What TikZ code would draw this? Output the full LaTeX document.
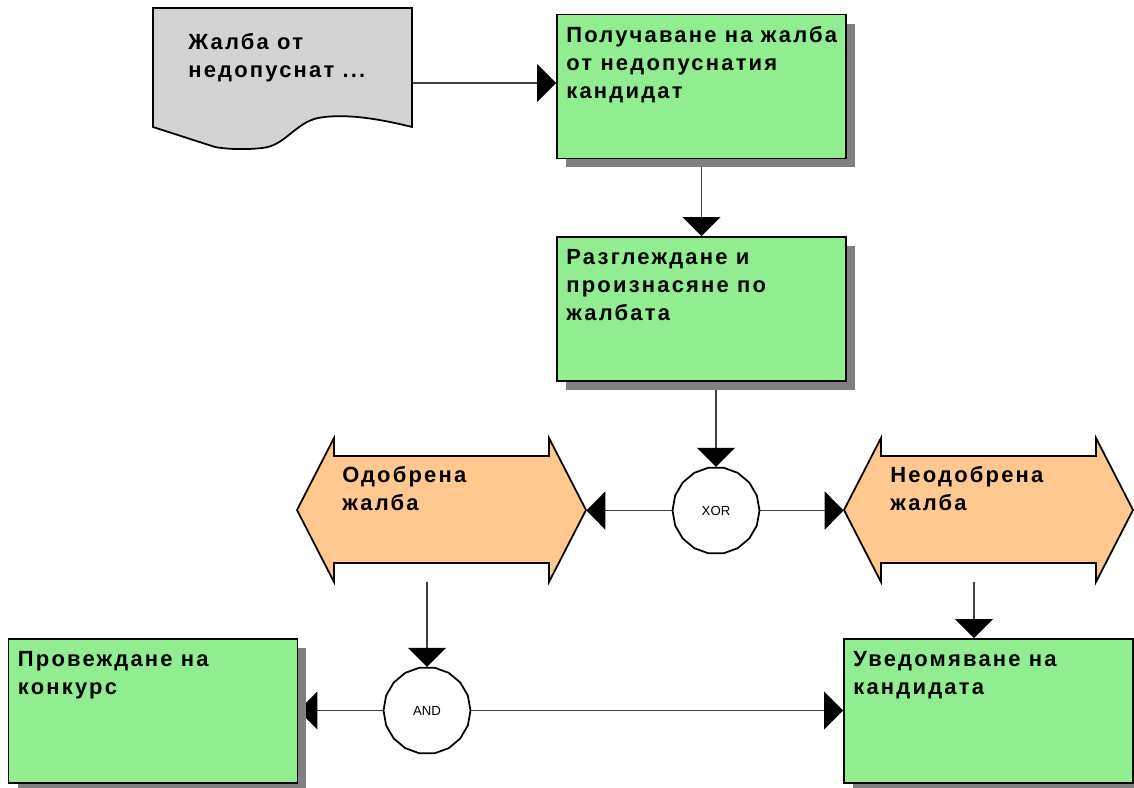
\documentclass[tikz,border=0pt]{standalone}
\usepackage{fontspec}
\setmainfont{Liberation Sans}
\newfontfamily\lblfont{Liberation Sans}[LetterSpace=10]
\usetikzlibrary{arrows.meta,shapes.geometric,shadows,backgrounds}

\definecolor{funcgreen}{RGB}{144,238,144}
\definecolor{eventorange}{RGB}{255,200,142}
\definecolor{docgray}{RGB}{211,211,211}

\tikzset{
  func/.style={draw=black, line width=1.1pt, fill=funcgreen, minimum width=5.78cm, minimum height=2.88cm, inner sep=0pt,
    drop shadow={shadow xshift=0.18cm, shadow yshift=-0.18cm, fill=black!50, opacity=1}},
  evbox/.style={minimum width=5.78cm, minimum height=2.88cm, inner sep=0pt},
  event/.style={draw=black, line width=1pt, fill=eventorange},
  doc/.style={draw=black, line width=1pt, fill=docgray},
  lbl/.style={anchor=north west, inner sep=0pt, align=left, font=\lblfont\bfseries\fontsize{12.5}{16}\selectfont},
  gate/.style={regular polygon, regular polygon sides=18, minimum size=1.74cm, draw=black, line width=1pt, fill=white, inner sep=0pt,
    font=\fontsize{7.5}{8}\selectfont},
  flow/.style={draw=black!75, line width=0.6pt, -{Triangle[length=0.38cm, width=0.76cm, color=black]}}
}

\begin{document}
\begin{tikzpicture}[x=0.02cm, y=-0.02cm]
  \useasboundingbox (0,0) rectangle (1134,788);

  % document
  \filldraw[doc] (153,8) -- (412,8) -- (412,127)
    .. controls (380,119) and (345,113) .. (318,118)
    .. controls (295,123) and (285,146) .. (262,148)
    .. controls (245,150) and (225,149) .. (215,147) -- (153,127) -- cycle;
  \coordinate (docout) at (412,83);
  \node[lbl] (doctxt) at (188,33) {Жалба от\\недопуснат ...};

  % functions
  \node[func] (f1) at (701.5,86.5) {};
  \node[lbl] (f1txt) at ([xshift=0.2cm,yshift=-0.25cm]f1.north west) {Получаване на жалба\\от недопуснатия\\кандидат};
  \node[func] (f2) at (701.5,309) {};
  \node[lbl] (f2txt) at ([xshift=0.2cm,yshift=-0.25cm]f2.north west) {Разглеждане и\\произнасяне по\\жалбата};
  \node[func] (f3) at (153,711) {};
  \node[lbl] (f3txt) at ([xshift=0.2cm,yshift=-0.25cm]f3.north west) {Провеждане на\\конкурс};
  \node[func] (f4) at (988.5,711) {};
  \node[lbl] (f4txt) at ([xshift=0.2cm,yshift=-0.25cm]f4.north west) {Уведомяване на\\кандидата};

  % events
  \filldraw[event] (297,510) -- (334,438) -- (334,456) -- (549,456) -- (549,438) -- (586,510)
    -- (549,582) -- (549,563) -- (334,563) -- (334,582) -- cycle;
  \node[evbox] (ev1) at (441.5,510) {};
  \node[lbl] (ev1txt) at (342,466) {Одобрена\\жалба};
  \filldraw[event] (844,510) -- (881,438) -- (881,456) -- (1096,456) -- (1096,438) -- (1133,510)
    -- (1096,582) -- (1096,563) -- (881,563) -- (881,582) -- cycle;
  \node[evbox] (ev2) at (988.5,510) {};
  \node[lbl] (ev2txt) at (890,466) {Неодобрена\\жалба};
  \coordinate (ev2out) at (974,582);

  % operators
  \node[gate] (xor) at (716,510.5) {XOR};
  \node[gate] (and) at (427,710.5) {AND};

  % connectors
  \begin{pgfonlayer}{background}
    \draw[flow] (docout) -- (docout -| f1.west);
    \draw[flow] (f1.south) -- (f2.north);
    \draw[flow] (xor.north |- f2.south) -- (xor.north);
    \draw[flow] (xor.west) -- (xor.west -| ev1.east);
    \draw[flow] (xor.east) -- (xor.east -| ev2.west);
    \draw[flow] (and.north |- ev1.south) -- (and.north);
    \draw[flow] (and.west) -- (and.west -| f3.east);
    \draw[flow] (and.east) -- (and.east -| f4.west);
    \draw[flow] (ev2out) -- (ev2out |- f4.north);
  \end{pgfonlayer}
\end{tikzpicture}
\end{document}
